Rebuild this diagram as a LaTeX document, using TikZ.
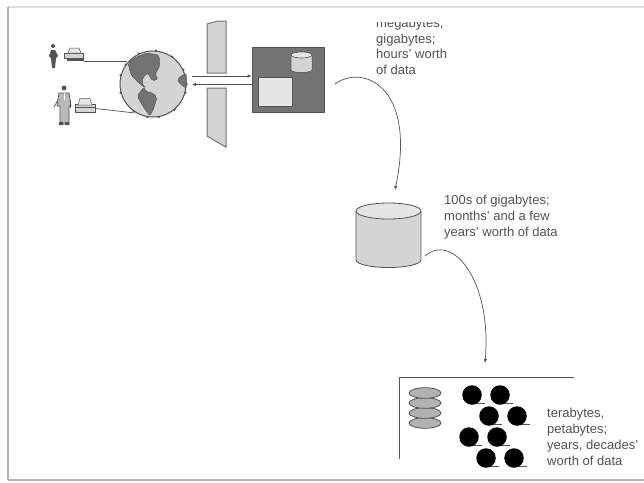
\documentclass[tikz,border=0pt]{standalone}
\usepackage{fontspec}
\setmainfont{Liberation Sans}
\usetikzlibrary{arrows.meta,calc}
\definecolor{ink}{gray}{0.33}
\definecolor{txt}{gray}{0.32}
\definecolor{midg}{gray}{0.45}
\definecolor{ligg}{gray}{0.83}
\definecolor{palg}{gray}{0.9}
\tikzset{
  lbl/.style={inner sep=0pt,align=left,anchor=north west,text=txt,font=\fontsize{13}{15.9}\selectfont},
  lnk/.style={draw=ink,line width=0.7pt},
  flow/.style={draw=ink,line width=0.7pt,-{Latex[length=4pt,width=3.5pt]}},
  walls/.style={draw=midg,fill=ligg,line width=1pt},
  tape/.style={circle,fill=black,minimum size=19.5pt,inner sep=0pt},
  disk/.style={draw=ink,fill=gray!60,line width=0.8pt},
  pt/.style={circle,fill=ink,inner sep=0pt,minimum size=2.5pt},
  head/.style={circle,fill=ink,inner sep=0pt,minimum size=5pt}
}
\begin{document}
\begin{tikzpicture}[x=1pt,y=-1pt]
\useasboundingbox (0,0) rectangle (644,482);
\fill[white] (0,0) rectangle (644,482);
% page edge
\draw[gray!25,line width=1.5pt] (8,7) -- (644,7);
\draw[gray!60,line width=1.6pt] (8,7) -- (8,480);
\draw[gray!60,line width=1.6pt] (8,480) -- (644,480);
% walls
\draw[walls] (207,24) -- (218,21) -- (226,21) -- (226,73) -- (207,73) -- cycle;
\draw[walls] (207,88) -- (226,88) -- (226,147) -- (217,142) -- (207,136) -- cycle;
% globe
\node[circle,draw=ink,fill=ligg,line width=1pt,minimum size=66pt,inner sep=0pt] (globe) at (153,84) {};
\fill[midg,draw=ink,line width=0.4pt,rounded corners=2pt] (128,63) -- (136,57) -- (147,53) -- (159,55) -- (160,66) -- (155,74) -- (158,79) -- (152,81) -- (148,73) -- (143,77) -- (142,84) -- (146,88) -- (141,85) -- (131,75) -- cycle;
\fill[midg,draw=ink,line width=0.4pt,rounded corners=2pt] (144,87) -- (146,92) -- (151,92) -- (157,97) -- (154,108) -- (150,116) -- (144,108) -- (137,96) -- (141,91) -- cycle;
\fill[midg,draw=ink,line width=0.4pt] (186,74) .. controls (181,75) and (178,78) .. (178,81)
  .. controls (180,84) and (184,87) .. (186,88) .. controls (187,83) and (187,79) .. (186,74) -- cycle;
\foreach \a in {15,50,80,100,125,165,195,215,245,275,305,335,0}
  \node[pt] at ($(153,84)+(\a:33.5)$) {};
% person 1
\node[head,minimum size=4pt] (h1) at (53,46) {};
\fill[ink] (51,50) -- (55,50) -- (58,56) -- (56,58) -- (55,68) -- (52,68) -- (51,58) -- (49,56) -- cycle;
% computer 1
\node[inner sep=0pt,minimum width=19pt,minimum height=5pt,fill=ligg,draw=ink,line width=.6pt] (pc1) at (74,55.5) {};
\draw[ink,fill=palg,line width=.5pt] (68,53) -- (70,48) -- (79,48) -- (81,53) -- cycle;
\fill[ink] (67,58) -- (84,58) -- (84,61) -- (67,61) -- cycle;
% person 2
\node[head] (h2) at (64,88) {};
\draw[ink,fill=gray!55,line width=.7pt] (59,93) -- (69,93) -- (71,106) -- (69,106) -- (69,124) -- (60,124) -- (60,106) -- (57,106) -- cycle;
\draw[ink,line width=.8pt] (58,100) -- (54,107);
\draw[ink,line width=.8pt] (70,100) -- (70,108);
\fill[ink] (59,122) rectangle (63,125) (65,122) rectangle (69,125);
\draw[white,line width=.8pt] (64,93) -- (64,100);
% computer 2
\node[inner sep=0pt,minimum width=20pt,minimum height=8pt,fill=ligg,draw=ink,line width=.6pt] (pc2) at (85,108.5) {};
\draw[ink,fill=palg,line width=.5pt] (78,105) -- (80,98.5) -- (90,98.5) -- (92,105) -- cycle;
\draw[ink,line width=.8pt] (75,107) -- (95,107);
% connectors
\draw[ink,line width=1pt] (pc1.east |- 0,61.5) -- (127,61.5);
\draw[lnk] (pc2.east) -- (135,113);
% server
\node[draw=ink,fill=midg,line width=.6pt,minimum width=72pt,minimum height=65pt,inner sep=0pt] (server) at (288,79.5) {};
\node[draw=ink,fill=palg,line width=1pt,minimum width=34pt,minimum height=29pt,inner sep=0pt] (scr) at (275,91.5) {};
\fill[ligg] (291,55) rectangle (312,70);
\fill[ligg] (301.5,70) ellipse (10.5 and 2.5);
\draw[ink,line width=.5pt] (291,55) -- (291,70) arc (180:0:10.5 and 2.5) -- (312,55);
\draw[ink,fill=palg,line width=.6pt] (301.5,55) ellipse (10.5 and 3);
% arrows globe <-> server
\coordinate (g1) at (192,76);
\coordinate (s1) at (server.west |- 0,76);
\coordinate (g2) at (192,84.5);
\coordinate (s2) at (server.west |- 0,84.5);
\draw[flow] (g1) -- (s1);
\draw[flow] (s2) -- (g2);
% clipped top label
\begin{scope}
\clip (370,22.5) rectangle (460,90);
\node[lbl] (t1) at (376,17.5) {megabytes,\\gigabytes;\\hours' worth\\of data};
\end{scope}
% mid cylinder
\fill[ligg] (356,211) rectangle (421,260);
\fill[ligg] (388.5,260) ellipse (32.5 and 7.5);
\draw[ink,line width=.8pt] (356,211) -- (356,260) arc (180:0:32.5 and 7.5) -- (421,211);
\draw[ink,fill=palg,line width=.8pt] (388.5,211) ellipse (32.5 and 8);
\node[inner sep=0pt,minimum width=65pt,minimum height=63pt] (cyl) at (388.5,235.5) {};
\node[lbl] (t2) at (444,195) {100s of gigabytes;\\months' and a few\\years' worth of data};
% archive frame
\coordinate (fa) at (399,459);
\coordinate (fb) at (399,377);
\coordinate (fc) at (574,377);
\draw[ink,line width=1pt] (fa) -- (fb) -- (fc);
\foreach \y in {423,413,403,393}
  \draw[disk] (425,\y) ellipse (16 and 5.3);
\foreach \n/\x/\y in {a/472/395,b/500/395,c/489/416,d/517/416,e/469/437,f/497/437,g/486/458,h/514/458}{
  \draw[ink,line width=.8pt] (\x,\y+8.5) -- (\x+13,\y+8.5);
  \node[tape] (\n) at (\x,\y) {};
}
\node[lbl] (t3) at (547,408) {terabytes,\\petabytes;\\years, decades'\\worth of data};
% curved flows
\coordinate (c1s) at (335,84);
\coordinate (c1e) at (395,190);
\coordinate (c2s) at (425,256);
\coordinate (c2e) at (485,363);
\draw[flow] (c1s) .. controls (362,64) and (417,85) .. (c1e);
\draw[flow] (c2s) .. controls (452,232) and (492,280) .. (c2e);
\end{tikzpicture}
\end{document}
